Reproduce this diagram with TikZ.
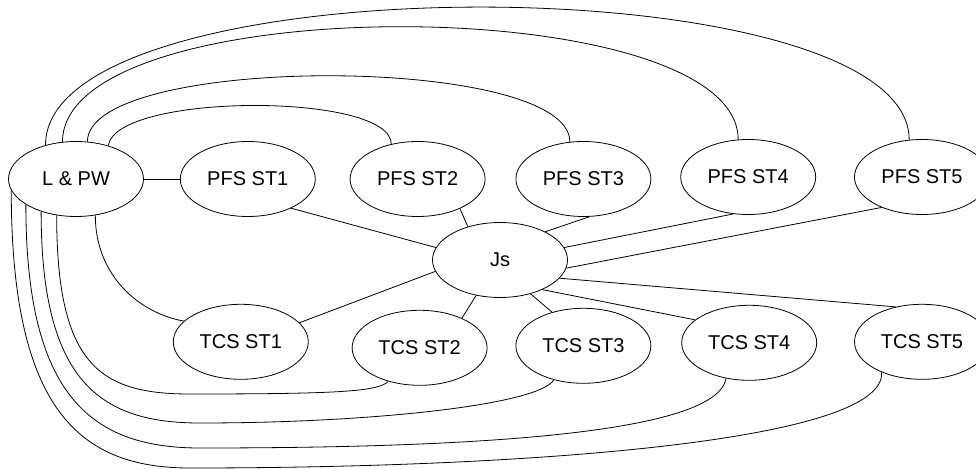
\documentclass[tikz,border=0pt]{standalone}
\usepackage{fontspec}
\setmainfont{Liberation Sans}
\usetikzlibrary{shapes,positioning}

\begin{document}
\begin{tikzpicture}[
    x=1pt, y=1pt,
    node distance=30pt,
    station/.style={ellipse, draw, line width=0.8pt, minimum width=135pt, minimum height=75pt, inner sep=0pt, font=\fontsize{20}{24}\selectfont},
    link/.style={draw, line width=0.8pt}
]
    \useasboundingbox (0,0) rectangle (976,-470);

    \node[station] (lpw) at (76,-179) {L \& PW};

    \node[station, right=36pt of lpw] (pfs1) {PFS ST1};
    \node[station, right=34pt of pfs1] (pfs2) {PFS ST2};
    \node[station, right=30pt of pfs2] (pfs3) {PFS ST3};
    \node[station, right=29pt of pfs3, yshift=2pt] (pfs4) {PFS ST4};
    \node[station, right=38pt of pfs4] (pfs5) {PFS ST5};

    \node[station] (js) at (500,-260) {Js};

    \node[station, below=87pt of pfs1, xshift=-7pt] (tcs1) {TCS ST1};
    \node[station, below=93pt of pfs2, xshift=2pt] (tcs2) {TCS ST2};
    \node[station, below=91pt of pfs3] (tcs3) {TCS ST3};
    \node[station, below=90pt of pfs4, xshift=1pt] (tcs4) {TCS ST4};
    \node[station, below=89pt of pfs5] (tcs5) {TCS ST5};

    \path[link] (lpw.east) -- (pfs1.west);
    \path[link] (pfs1.-34) -- (js.169);
    \path[link] (pfs2.-35) -- (js.134);
    \path[link] (pfs3.-81) -- (js.32);
    \path[link] (pfs4.248) -- (js.11);
    \path[link] (pfs5.217) -- (js.-7);
    \path[link] (js.-170) -- (tcs1.18);
    \path[link] (js.-124) -- (tcs2.35);
    \path[link] (js.-48) -- (tcs3.133);
    \path[link] (js.-35) -- (tcs4.157);
    \path[link] (js.-17) -- (tcs5.127);

    \path[link] (lpw.46) .. controls +(8,53) and +(0,52) .. (pfs2.127);
    \path[link] (lpw.73) .. controls +(0,88) and +(0,88) .. (pfs3.110);
    \path[link] (lpw.110) .. controls +(0,154) and +(0,150) .. (pfs4.105);
    \path[link] (lpw.132) .. controls +(0,184) and +(0,177) .. (pfs5.109);

    \path[link] (lpw.-62) .. controls +(0,-60) and +(-45,8) .. (tcs1.160);
    \path[link] (lpw.-118) .. controls +(0,-150) and +(-90,0) .. (190,-394) .. controls +(150,0) and +(-10,-10) .. (tcs2.227);
    \path[link] (lpw.-137) .. controls +(0,-170) and +(-100,0) .. (200,-423) .. controls +(170,0) and +(-15,-25) .. (tcs3.229);
    \path[link] (lpw.-153) .. controls +(0,-190) and +(-110,0) .. (200,-448) .. controls +(250,0) and +(-10,-58) .. (tcs4.237);
    \path[link] (lpw.-170) .. controls +(0,-220) and +(-110,0) .. (190,-468) .. controls +(330,0) and +(5,-70) .. (tcs5.217);
\end{tikzpicture}
\end{document}
